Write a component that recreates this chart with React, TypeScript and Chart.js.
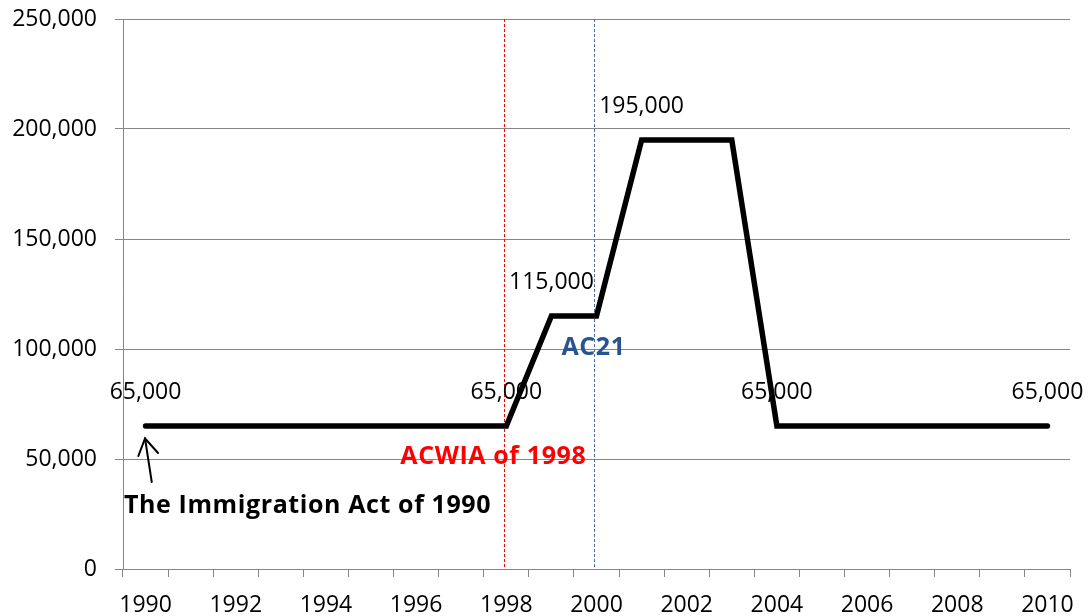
import React, { useEffect, useRef } from 'react';
import { Chart, registerables } from 'chart.js';

Chart.register(...registerables);

const years: string[] = [
  '1990', '1991', '1992', '1993', '1994', '1995', '1996', '1997', '1998', '1999', '2000',
  '2001', '2002', '2003', '2004', '2005', '2006', '2007', '2008', '2009', '2010',
];
const capValues: number[] = [
  65000, 65000, 65000, 65000, 65000, 65000, 65000, 65000, 65000,
  115000, 115000,
  195000, 195000, 195000,
  65000, 65000, 65000, 65000, 65000, 65000, 65000,
];
const labeledYears: string[] = ['1990', '1998', '1999', '2001', '2004', '2010'];
const yMin = 0;
const yMax = 250000;
const yStep = 50000;

const actLabel = 'The Immigration Act of 1990';
const acwiaLabel = 'ACWIA of 1998';
const acwiaYear = '1998';
const ac21Label = 'AC21';
const ac21Year = '2000';

const FONT = '"Open Sans", "Noto Sans", sans-serif';
const fmt = (v: number) => v.toLocaleString('en-US');

function dashedVLine(ctx: CanvasRenderingContext2D, x: number, top: number, bottom: number, color: string) {
  ctx.fillStyle = color;
  const xi = Math.round(x);
  for (let y = top; y < bottom; y += 5) {
    ctx.fillRect(xi, y, 1, Math.min(3, bottom - y));
  }
}

const annotationPlugin = {
  id: 'annotations',
  beforeDatasetsDraw(chart: any) {
    const { ctx, chartArea, scales } = chart;
    const xs = scales.x;
    ctx.save();
    dashedVLine(ctx, xs.getPixelForValue(years.indexOf(acwiaYear)) - 2, chartArea.top, chartArea.bottom, '#FF0000');
    dashedVLine(ctx, xs.getPixelForValue(years.indexOf(ac21Year)) - 3, chartArea.top, chartArea.bottom, '#4A6E9E');
    ctx.restore();
  },
  afterDatasetsDraw(chart: any) {
    const { ctx, chartArea, scales } = chart;
    const xs = scales.x;
    const meta = chart.getDatasetMeta(0);
    ctx.save();
    // data labels
    ctx.font = `23px ${FONT}`;
    ctx.fillStyle = '#000';
    ctx.textAlign = 'center';
    ctx.textBaseline = 'middle';
    labeledYears.forEach((yr) => {
      const i = years.indexOf(yr);
      const pt = meta.data[i];
      ctx.fillText(fmt(capValues[i]), pt.x, pt.y - 34);
    });
    // annotations
    ctx.font = `bold 25px ${FONT}`;
    (ctx as any).letterSpacing = '0.6px';
    ctx.textAlign = 'left';
    ctx.fillStyle = '#000';
    ctx.fillText(actLabel, chartArea.left + 1, 506);
    ctx.textAlign = 'center';
    ctx.fillStyle = '#FF0000';
    ctx.fillText(acwiaLabel, xs.getPixelForValue(years.indexOf(acwiaYear)) - 13, 457);
    ctx.fillStyle = '#2A5490';
    ctx.fillText(ac21Label, xs.getPixelForValue(years.indexOf(ac21Year)) - 3, 348);
    (ctx as any).letterSpacing = '0px';
    // arrow
    const p0 = meta.data[0];
    const tipX = p0.x - 0.5;
    const tipY = p0.y + 12.5;
    ctx.strokeStyle = '#000';
    ctx.lineWidth = 2;
    ctx.lineCap = 'round';
    ctx.beginPath();
    ctx.moveTo(tipX + 6.7, tipY + 43.5);
    ctx.lineTo(tipX, tipY);
    ctx.stroke();
    ctx.beginPath();
    ctx.moveTo(tipX - 6.7, tipY + 17.5);
    ctx.lineTo(tipX, tipY);
    ctx.lineTo(tipX + 13, tipY + 14.5);
    ctx.stroke();
    ctx.restore();
  },
};

export default function App() {
  const canvasRef = useRef<HTMLCanvasElement | null>(null);

  useEffect(() => {
    if (!canvasRef.current) return;
    const chart = new Chart(canvasRef.current, {
      type: 'line',
      data: {
        labels: years,
        datasets: [
          {
            data: capValues,
            borderColor: '#000000',
            borderWidth: 5.5,
            pointRadius: 0,
            tension: 0,
            borderCapStyle: 'round',
            borderJoinStyle: 'miter',
            fill: false,
          },
        ],
      },
      options: {
        responsive: false,
        animation: false,
        layout: { padding: { top: 19, right: 18, left: 0, bottom: 0 } },
        plugins: {
          legend: { display: false },
          tooltip: { enabled: false },
        },
        scales: {
          x: {
            type: 'category',
            offset: true,
            grid: {
              display: true,
              drawOnChartArea: false,
              drawTicks: true,
              tickLength: 8,
              offset: true,
              color: '#868686',
            },
            border: { display: true, color: '#868686', width: 1 },
            ticks: {
              autoSkip: false,
              maxRotation: 0,
              minRotation: 0,
              padding: 15,
              color: '#000',
              font: { family: FONT, size: 23 },
              callback: (_v: any, i: number) => (i % 2 === 0 ? years[i] : ''),
            },
            afterFit: (scale: any) => {
              scale.height = 47;
              scale.paddingLeft = 0;
              scale.paddingRight = 0;
            },
          },
          y: {
            min: yMin,
            max: yMax,
            grid: { color: '#868686', tickLength: 8, lineWidth: 1 },
            border: { display: true, color: '#868686', width: 1 },
            ticks: {
              stepSize: yStep,
              padding: 18,
              color: '#000',
              font: { family: FONT, size: 23 },
              callback: (v: any) => fmt(Number(v)),
            },
            afterFit: (scale: any) => {
              scale.width = 123;
              scale.paddingTop = 0;
              scale.paddingBottom = 0;
            },
          },
        },
      },
      plugins: [annotationPlugin],
    });
    return () => chart.destroy();
  }, []);

  return (
    <div style={{ position: 'absolute', left: 0, top: 0, width: 1088, height: 616, background: '#fff' }}>
      <canvas ref={canvasRef} width={1088} height={616} style={{ display: 'block' }} />
    </div>
  );
}
